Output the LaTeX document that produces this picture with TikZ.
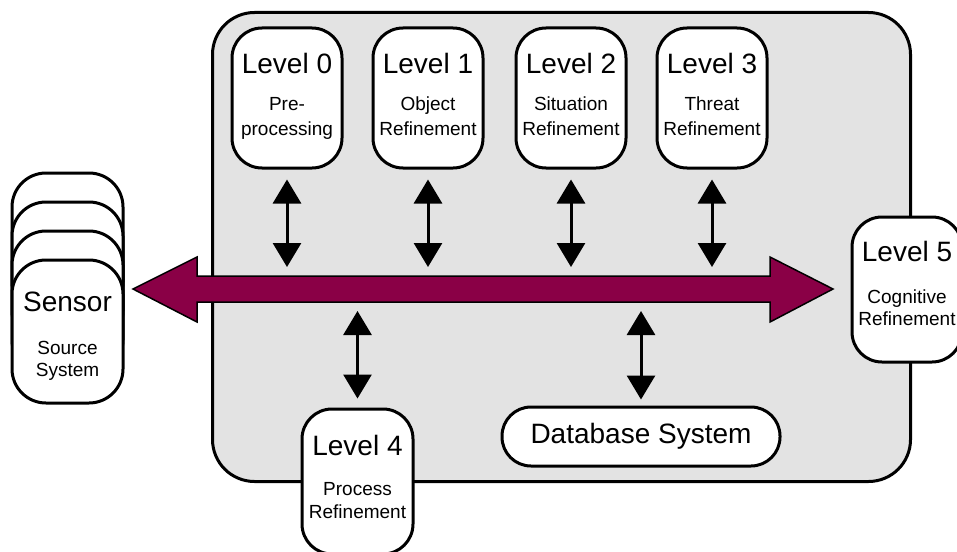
\documentclass[tikz,border=0pt]{standalone}
\usepackage{fontspec}
\setmainfont{Liberation Sans}
\usetikzlibrary{arrows.meta}
\definecolor{panelgray}{HTML}{E3E3E3}
\definecolor{busred}{HTML}{8A0046}
\tikzset{
  box/.style={draw=black, line width=3pt, fill=white, rounded corners=30pt, minimum width=110pt, minimum height=140pt, inner sep=0pt},
  bigtxt/.style={anchor=base, inner sep=0pt, font=\fontsize{28}{32}\selectfont},
  smalltxt/.style={anchor=base, inner sep=0pt, align=center, font=\fontsize{19}{25}\selectfont},
  dbl/.style={line width=3pt, {Triangle[width=28pt,length=24pt]}-{Triangle[width=28pt,length=24pt]}}
}
\begin{document}
\begin{tikzpicture}[x=1pt,y=-1pt]
\useasboundingbox (0,0) rectangle (957,551);
% container
\node[draw=black, line width=3pt, fill=panelgray, rounded corners=42pt, minimum width=698pt, minimum height=469pt, inner sep=0pt] (panel) at (561.5,247) {};
% top level boxes
\node[box] (L0) at (287,98) {};
\node[box] (L1) at (428,98) {};
\node[box] (L2) at (571,98) {};
\node[box] (L3) at (712,98) {};
\node[bigtxt] (t0) at ([yshift=-47pt]L0.north) {Level 0};
\node[smalltxt] (s0a) at ([yshift=-84pt]L0.north) {Pre-};
\node[smalltxt] (s0b) at ([yshift=-109pt]L0.north) {processing};
\node[bigtxt] (t1) at ([yshift=-47pt]L1.north) {Level 1};
\node[smalltxt] (s1a) at ([yshift=-84pt]L1.north) {Object};
\node[smalltxt] (s1b) at ([yshift=-109pt]L1.north) {Refinement};
\node[bigtxt] (t2) at ([yshift=-47pt]L2.north) {Level 2};
\node[smalltxt] (s2a) at ([yshift=-84pt]L2.north) {Situation};
\node[smalltxt] (s2b) at ([yshift=-109pt]L2.north) {Refinement};
\node[bigtxt] (t3) at ([yshift=-47pt]L3.north) {Level 3};
\node[smalltxt] (s3a) at ([yshift=-84pt]L3.north) {Threat};
\node[smalltxt] (s3b) at ([yshift=-109pt]L3.north) {Refinement};
% level 4
\node[box, minimum height=145pt, minimum width=111pt] (L4) at (357.5,481.5) {};
\node[bigtxt] (t4) at ([yshift=-48pt]L4.north) {Level 4};
\node[smalltxt] (s4a) at ([yshift=-88pt]L4.north) {Process};
\node[smalltxt] (s4b) at ([yshift=-111pt]L4.north) {Refinement};
% level 5
\node[box, minimum height=145pt] (L5) at (907,289.5) {};
\node[bigtxt] (t5) at ([yshift=-46pt]L5.north) {Level 5};
\node[smalltxt] (s5a) at ([yshift=-88pt]L5.north) {Cognitive};
\node[smalltxt] (s5b) at ([yshift=-110pt]L5.north) {Refinement};
% database
\node[draw=black, line width=3pt, fill=white, rounded corners=29pt, minimum width=278pt, minimum height=59pt, inner sep=0pt, font=\fontsize{28}{32}\selectfont] (db) at (641,436.5) {Database System};
% sensor stack
\node[box, rounded corners=34pt, minimum width=111pt, minimum height=143pt] (S3) at (67.5,244.5) {};
\node[box, rounded corners=34pt, minimum width=111pt, minimum height=143pt] (S2) at (67.5,273.5) {};
\node[box, rounded corners=34pt, minimum width=111pt, minimum height=143pt] (S1) at (67.5,302.5) {};
\node[box, rounded corners=34pt, minimum width=111pt, minimum height=143pt] (S0) at (67.5,331.5) {};
\node[bigtxt] (ts) at ([yshift=-53pt]S0.north) {Sensor};
\node[smalltxt] (ssa) at ([yshift=-96pt]S0.north) {Source};
\node[smalltxt] (ssb) at ([yshift=-118pt]S0.north) {System};
% bus
\draw[fill=busred, draw=black, line width=1.5pt, line join=miter]
  (133,289) -- (197,257) -- (197,276) -- (770,276) -- (770,257) -- (833,289)
  -- (770,322) -- (770,302) -- (197,302) -- (197,322) -- cycle;
\coordinate (bustop) at (0,276);
\coordinate (busbot) at (0,302);
% arrows
\draw[dbl, shorten <=10pt, shorten >=9pt] (L0.south) -- (L0.south |- bustop);
\draw[dbl, shorten <=10pt, shorten >=9pt] (L1.south) -- (L1.south |- bustop);
\draw[dbl, shorten <=10pt, shorten >=9pt] (L2.south) -- (L2.south |- bustop);
\draw[dbl, shorten <=10pt, shorten >=9pt] (L3.south) -- (L3.south |- bustop);
\draw[dbl, shorten <=9pt, shorten >=9pt] (L4.north |- busbot) -- (L4.north);
\draw[dbl, shorten <=9pt, shorten >=6pt] (db.north |- busbot) -- (db.north);
\end{tikzpicture}
\end{document}
